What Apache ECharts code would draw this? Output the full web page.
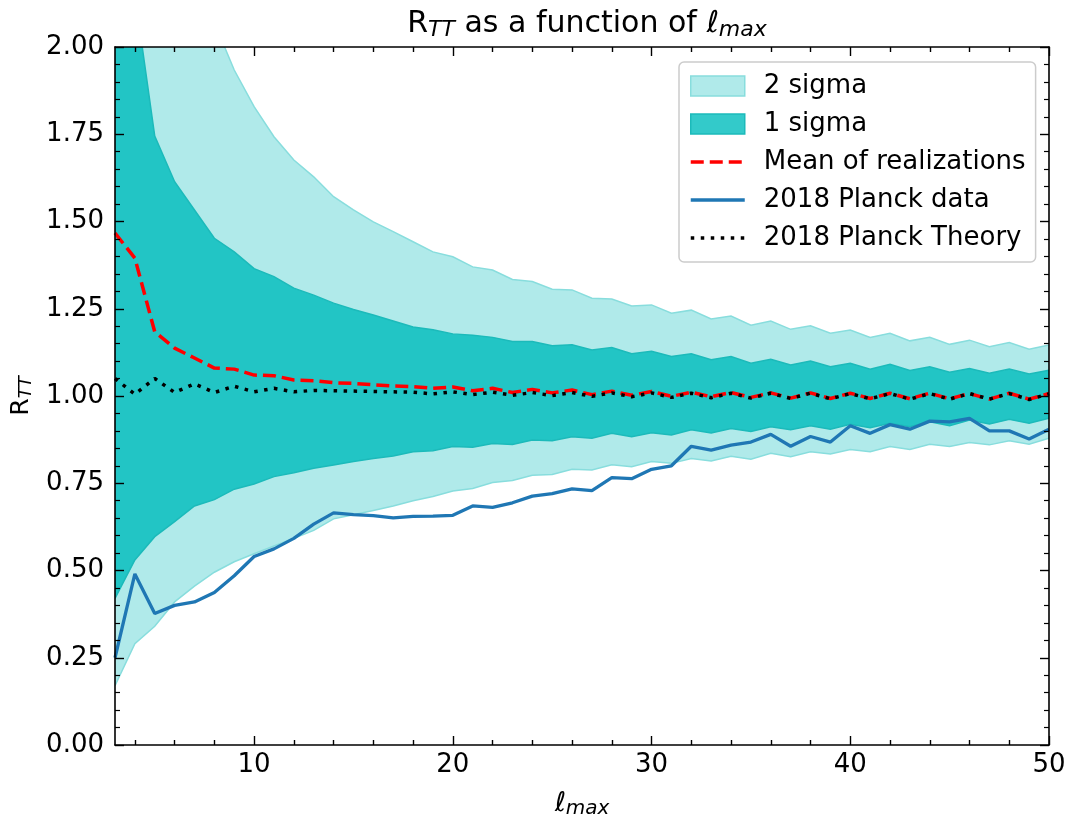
<!DOCTYPE html>
<html>
<head>
<meta charset="utf-8">
<script src="https://cdn.jsdelivr.net/npm/echarts@6/dist/echarts.min.js"></script>
<style>
  html, body { margin: 0; padding: 0; background: #ffffff; }
  #chart { width: 1068px; height: 818px; }
</style>
</head>
<body>
<div id="chart"></div>
<script>
// multipole cut-off values
const ellMax = [3, 4, 5, 6, 7, 8, 9, 10, 11, 12, 13, 14, 15, 16, 17, 18, 19, 20, 21, 22, 23, 24, 25, 26,
  27, 28, 29, 30, 31, 32, 33, 34, 35, 36, 37, 38, 39, 40, 41, 42, 43, 44, 45, 46, 47, 48, 49, 50];

// 2 sigma band of the realizations
const lower2 = [0.17, 0.29, 0.34, 0.41, 0.455, 0.495, 0.525, 0.548, 0.570, 0.592, 0.615, 0.648, 0.660, 0.672,
  0.685, 0.700, 0.712, 0.728, 0.735, 0.752, 0.758, 0.773, 0.775, 0.790, 0.788, 0.803, 0.797, 0.812, 0.807,
  0.821, 0.814, 0.827, 0.819, 0.836, 0.826, 0.840, 0.834, 0.847, 0.840, 0.855, 0.847, 0.862, 0.855, 0.867,
  0.860, 0.872, 0.862, 0.879];
const upper2 = [4.0, 3.2, 2.8, 2.45, 2.25, 2.07, 1.934, 1.829, 1.743, 1.676, 1.628, 1.571, 1.533, 1.499,
  1.471, 1.442, 1.413, 1.399, 1.370, 1.361, 1.334, 1.328, 1.306, 1.304, 1.280, 1.278, 1.258, 1.261, 1.237,
  1.246, 1.221, 1.229, 1.203, 1.215, 1.191, 1.201, 1.180, 1.189, 1.168, 1.180, 1.158, 1.168, 1.148, 1.160,
  1.141, 1.153, 1.134, 1.146];

// 1 sigma band of the realizations
const lower1 = [0.42, 0.53, 0.597, 0.640, 0.685, 0.703, 0.733, 0.748, 0.769, 0.780, 0.793, 0.802, 0.812,
  0.821, 0.828, 0.840, 0.843, 0.855, 0.853, 0.864, 0.861, 0.874, 0.872, 0.883, 0.879, 0.893, 0.883, 0.895,
  0.888, 0.903, 0.894, 0.907, 0.898, 0.912, 0.903, 0.915, 0.905, 0.919, 0.909, 0.922, 0.912, 0.926, 0.915,
  0.931, 0.920, 0.933, 0.922, 0.936];
const upper1 = [2.6, 2.15, 1.745, 1.614, 1.533, 1.452, 1.413, 1.365, 1.342, 1.309, 1.289, 1.266, 1.248,
  1.232, 1.215, 1.198, 1.190, 1.178, 1.174, 1.168, 1.156, 1.156, 1.144, 1.147, 1.132, 1.139, 1.121, 1.128,
  1.113, 1.121, 1.104, 1.113, 1.094, 1.105, 1.089, 1.100, 1.084, 1.094, 1.077, 1.091, 1.073, 1.084, 1.068,
  1.079, 1.065, 1.077, 1.063, 1.074];

// mean of the simulated realizations
const meanReal = [1.467, 1.395, 1.184, 1.137, 1.109, 1.080, 1.077, 1.060, 1.058, 1.046, 1.044, 1.038, 1.036,
  1.032, 1.029, 1.027, 1.022, 1.026, 1.015, 1.022, 1.010, 1.019, 1.009, 1.017, 1.004, 1.014, 1.002, 1.013,
  0.999, 1.011, 0.998, 1.010, 0.996, 1.009, 0.994, 1.009, 0.993, 1.008, 0.993, 1.008, 0.992, 1.008, 0.992,
  1.007, 0.991, 1.008, 0.991, 1.007];

// 2018 Planck measurement
const planckData = [0.25, 0.49, 0.377, 0.400, 0.410, 0.437, 0.485, 0.540, 0.562, 0.592, 0.633, 0.665, 0.660,
  0.657, 0.651, 0.655, 0.656, 0.658, 0.685, 0.681, 0.694, 0.713, 0.720, 0.734, 0.729, 0.766, 0.763, 0.790,
  0.800, 0.856, 0.845, 0.859, 0.868, 0.890, 0.856, 0.884, 0.868, 0.915, 0.893, 0.918, 0.905, 0.928, 0.926,
  0.936, 0.900, 0.900, 0.877, 0.905];

// 2018 Planck best-fit theory
const planckTheory = [1.050, 1.005, 1.050, 1.010, 1.035, 1.010, 1.028, 1.012, 1.022, 1.012, 1.016, 1.015,
  1.014, 1.013, 1.012, 1.011, 1.006, 1.012, 1.004, 1.011, 1.002, 1.010, 1.001, 1.010, 0.999, 1.009, 0.998,
  1.009, 0.996, 1.008, 0.995, 1.008, 0.994, 1.008, 0.993, 1.008, 0.992, 1.007, 0.992, 1.007, 0.991, 1.007,
  0.991, 1.007, 0.991, 1.007, 0.990, 1.006];

// axis ticks
const xMajorTicks = [10, 20, 30, 40, 50];
const xMinorTicks = [4, 6, 8, 12, 14, 16, 18, 22, 24, 26, 28, 32, 34, 36, 38, 42, 44, 46, 48];

const FONT = 'DejaVu Sans';
const LIGHT = '#b0eaea', LIGHT_EDGE = '#88dddd';
const DARK = '#22c5c5', DARK_EDGE = '#1cbaba';

const pairs = (vals) => ellMax.map((l, i) => [l, vals[i]]);

// filled band between two curves, with thin edge lines, clipped to the plot area
function bandSeries(name, lower, upper, fill, edge, z) {
  return {
    name: name, type: 'custom', z: z, silent: true, clip: true,
    itemStyle: { color: fill },
    data: [[ellMax[0], lower[0]]],
    encode: { x: 0, y: 1 },
    renderItem: function (params, api) {
      const top = ellMax.map((l, i) => api.coord([l, upper[i]]));
      const bottom = ellMax.map((l, i) => api.coord([l, lower[i]]));
      const cs = params.coordSys;
      return {
        type: 'group',
        clipPath: { type: 'rect', shape: { x: cs.x, y: cs.y, width: cs.width, height: cs.height } },
        children: [
          { type: 'polygon', shape: { points: top.concat(bottom.slice().reverse()) },
            style: { fill: fill, stroke: null } },
          { type: 'polyline', shape: { points: top }, style: { fill: null, stroke: edge, lineWidth: 1.5 } },
          { type: 'polyline', shape: { points: bottom }, style: { fill: null, stroke: edge, lineWidth: 1.5 } }
        ]
      };
    }
  };
}

const chart = echarts.init(document.getElementById('chart'), null, { renderer: 'canvas' });

function xAxisDef(position, ticks, len, withLine, withLabels) {
  return {
    type: 'value', position: position, min: 3, max: 50, z: 10,
    axisLine: { show: withLine, onZero: false, lineStyle: { color: '#000', width: 1.6 } },
    axisTick: { show: true, inside: true, length: len, customValues: ticks, lineStyle: { color: '#000', width: 1.4 } },
    axisLabel: withLabels
      ? { show: true, customValues: ticks, color: '#000', fontSize: 26, fontFamily: FONT, margin: 7 }
      : { show: false },
    splitLine: { show: false }
  };
}
function yAxisDef(position, withLabels) {
  return {
    type: 'value', position: position, min: 0, max: 2, interval: 0.25, z: 10,
    axisLine: { show: true, onZero: false, lineStyle: { color: '#000', width: 1.6 } },
    axisTick: { show: true, inside: true, length: 9, lineStyle: { color: '#000', width: 1.4 } },
    minorTick: { show: true, splitNumber: 5, length: 5, lineStyle: { color: '#000', width: 1.2 } },
    axisLabel: withLabels
      ? { show: true, color: '#000', fontSize: 26, fontFamily: FONT, margin: 11, formatter: v => v.toFixed(2) }
      : { show: false },
    splitLine: { show: false }
  };
}

const xMain = xAxisDef('bottom', xMajorTicks, 9, true, true);
xMain.name = '{it|ℓ}{sub|max}';
xMain.nameLocation = 'middle';
xMain.nameGap = 44;
xMain.nameTextStyle = {
  rich: {
    it: { fontSize: 27, fontStyle: 'italic', fontFamily: FONT, color: '#000' },
    sub: { fontSize: 20, fontStyle: 'italic', fontFamily: FONT, color: '#000', padding: [10, 0, 0, 0] }
  }
};

const yMain = yAxisDef('left', true);
yMain.name = '{r|R}{sub|TT}';
yMain.nameLocation = 'middle';
yMain.nameRotate = 90;
yMain.nameGap = 80;
yMain.nameTextStyle = {
  rich: {
    r: { fontSize: 25, fontFamily: FONT, color: '#000' },
    sub: { fontSize: 18, fontStyle: 'italic', fontFamily: FONT, color: '#000', padding: [10, 0, 0, 0] }
  }
};

const option = {
  backgroundColor: '#ffffff',
  animation: false,
  title: {
    text: '{r|R}{sub|TT}{r| as a function of }{it|ℓ}{sub|max}',
    left: 582, top: 3, textAlign: 'center',
    textStyle: {
      fontWeight: 'normal',
      rich: {
        r: { fontSize: 30, fontWeight: 'normal', fontFamily: FONT, color: '#000' },
        it: { fontSize: 30, fontWeight: 'normal', fontStyle: 'italic', fontFamily: FONT, color: '#000' },
        sub: { fontSize: 22, fontWeight: 'normal', fontStyle: 'italic', fontFamily: FONT, color: '#000', padding: [11, 0, 0, 0] }
      }
    }
  },
  grid: { left: 115, right: 19, top: 47, bottom: 73, containLabel: false, outerBoundsMode: 'none' },
  legend: {
    orient: 'vertical', left: 679, top: 62,
    padding: [11, 10, 11, 10],
    itemWidth: 54, itemHeight: 20, itemGap: 12,
    backgroundColor: 'rgba(255,255,255,0.8)',
    borderColor: '#cccccc', borderWidth: 1.5, borderRadius: 5,
    textStyle: { color: '#000', fontSize: 26, fontFamily: FONT, padding: [0, 0, 0, 14] },
    data: [
      { name: '2 sigma', icon: 'rect', itemStyle: { color: LIGHT, borderColor: LIGHT_EDGE, borderWidth: 1.5 } },
      { name: '1 sigma', icon: 'rect', itemStyle: { color: '#33caca', borderColor: DARK_EDGE, borderWidth: 1.5 } },
      { name: 'Mean of realizations', itemStyle: { opacity: 0 },
        lineStyle: { color: '#ff0000', width: 3.5, type: [13, 6], opacity: 1 } },
      { name: '2018 Planck data', itemStyle: { opacity: 0 },
        lineStyle: { color: '#1f77b4', width: 3.5, type: 'solid', opacity: 1 } },
      { name: '2018 Planck Theory', itemStyle: { opacity: 0 },
        lineStyle: { color: '#000', width: 3.5, type: [3.5, 6.5], opacity: 1 } }
    ]
  },
  xAxis: [
    xMain,
    xAxisDef('bottom', xMinorTicks, 5, false, false),
    xAxisDef('top', xMajorTicks, 9, true, false),
    xAxisDef('top', xMinorTicks, 5, false, false)
  ],
  yAxis: [yMain, yAxisDef('right', false)],
  series: [
    bandSeries('2 sigma', lower2, upper2, LIGHT, LIGHT_EDGE, 1),
    bandSeries('1 sigma', lower1, upper1, DARK, DARK_EDGE, 2),
    { name: 'Mean of realizations', type: 'line', data: pairs(meanReal), symbol: 'none', z: 3,
      itemStyle: { color: '#ff0000' },
      lineStyle: { color: '#ff0000', width: 3.5, type: [13, 6], cap: 'butt' } },
    { name: '2018 Planck data', type: 'line', data: pairs(planckData), symbol: 'none', z: 3,
      itemStyle: { color: '#1f77b4' },
      lineStyle: { color: '#1f77b4', width: 3.3 } },
    { name: '2018 Planck Theory', type: 'line', data: pairs(planckTheory), symbol: 'none', z: 4,
      itemStyle: { color: '#000' },
      lineStyle: { color: '#000', width: 3.5, type: [3.5, 6.5], cap: 'butt' } }
  ]
};

chart.setOption(option);
</script>
</body>
</html>
